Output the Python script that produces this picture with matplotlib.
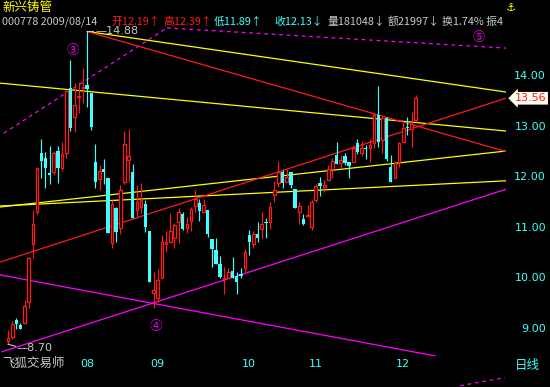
import matplotlib
matplotlib.use('Agg')
import matplotlib.pyplot as plt
import matplotlib.transforms as mtransforms
from matplotlib.patches import Rectangle

plt.rcParams['font.family'] = ['Noto Sans CJK SC', 'DejaVu Sans']

# daily candles, oldest first
opens = [8.76, 8.84, 9.18, 9.08, 9.12, 9.53, 10.68, 11.31, 12.48, 12.38,
         12.08, 12.10, 12.52, 12.18, 12.48, 13.76, 13.19, 13.58, 13.76, 13.82,
         13.66, 12.30, 11.96, 12.16, 11.98, 10.70, 11.39, 11.00, 11.91, 12.34,
         12.10, 11.35, 11.41, 11.47, 10.94, 9.71, 9.61, 10.00, 10.68, 10.72,
         10.80, 11.12, 11.27, 11.00, 11.13, 11.43, 11.49, 11.31, 11.35, 10.78,
         10.56, 10.28, 9.99, 10.01, 10.15, 10.05, 10.09, 10.21, 10.86, 10.68,
         10.88, 10.98, 11.11, 11.12, 11.65, 11.89, 12.10, 11.91, 12.10, 11.77,
         11.31, 11.17, 11.23, 11.02, 11.55, 11.89, 11.81, 11.94, 12.16, 12.44,
         12.28, 12.42, 12.30, 12.30, 12.68, 12.48, 12.58, 12.58, 12.68, 13.23,
         12.74, 13.17, 12.20, 11.98, 12.30, 12.70, 12.99, 12.95, 13.13]
highs = [8.98, 9.15, 9.22, 9.12, 9.57, 10.42, 11.35, 12.20, 12.75, 12.50,
         12.62, 12.52, 12.62, 12.70, 13.72, 14.32, 13.86, 13.88, 14.16, 14.88,
         13.66, 12.66, 12.24, 12.36, 11.98, 11.55, 11.41, 11.85, 12.91, 12.95,
         12.26, 11.85, 11.89, 11.55, 10.94, 10.13, 10.19, 10.86, 10.94, 11.29,
         11.10, 11.39, 11.31, 11.21, 11.41, 11.75, 11.57, 11.57, 11.35, 10.78,
         10.80, 10.44, 10.23, 10.21, 10.42, 10.13, 10.21, 10.58, 10.96, 10.94,
         11.12, 11.31, 11.19, 11.51, 11.92, 12.32, 12.14, 12.16, 12.10, 11.77,
         11.51, 11.27, 11.45, 11.55, 11.87, 12.00, 11.94, 12.24, 12.38, 12.70,
         12.44, 12.48, 12.30, 12.64, 12.75, 12.72, 12.64, 12.75, 13.27, 13.80,
         13.21, 13.19, 12.44, 12.32, 12.70, 13.07, 13.19, 13.29, 13.62]
lows = [8.70, 8.80, 9.00, 9.00, 9.10, 9.41, 10.40, 11.28, 11.98, 11.79,
        11.87, 12.05, 11.89, 12.12, 12.38, 12.91, 12.89, 13.27, 13.47, 13.39,
        12.93, 11.79, 11.75, 11.87, 10.90, 10.60, 10.72, 10.88, 11.87, 11.91,
        11.19, 11.19, 11.29, 10.92, 9.93, 9.41, 9.53, 10.00, 10.52, 10.70,
        10.60, 10.70, 10.96, 10.90, 10.94, 11.31, 11.13, 11.31, 10.82, 10.23,
        10.28, 10.00, 9.69, 10.00, 10.01, 9.69, 10.01, 10.13, 10.46, 10.60,
        10.72, 10.80, 10.80, 10.98, 11.51, 11.81, 11.79, 11.91, 11.79, 11.39,
        11.08, 11.06, 11.23, 10.96, 11.51, 11.63, 11.71, 11.94, 11.98, 12.26,
        12.18, 12.24, 11.98, 12.30, 12.46, 12.42, 12.36, 12.30, 12.58, 12.60,
        12.48, 12.32, 11.91, 11.98, 12.20, 12.70, 12.83, 12.60, 13.09]
closes = [8.82, 9.10, 9.10, 9.00, 9.45, 10.40, 11.08, 12.18, 12.32, 12.18,
          12.05, 12.48, 12.18, 12.45, 13.70, 12.97, 13.43, 13.61, 13.78, 13.74,
          12.99, 11.91, 12.12, 12.10, 10.90, 11.47, 10.92, 11.75, 12.66, 12.42,
          11.19, 11.51, 11.55, 11.02, 9.93, 9.77, 9.97, 10.72, 10.72, 10.94,
          11.06, 11.31, 10.98, 11.08, 11.37, 11.57, 11.33, 11.45, 10.88, 10.58,
          10.28, 10.03, 10.01, 10.13, 10.01, 9.93, 10.05, 10.52, 10.72, 10.88,
          10.80, 11.08, 11.09, 11.41, 11.75, 12.10, 11.89, 12.00, 11.85, 11.39,
          11.43, 11.08, 11.25, 11.51, 11.83, 11.83, 11.85, 12.16, 12.32, 12.26,
          12.34, 12.28, 12.22, 12.58, 12.50, 12.58, 12.56, 12.64, 13.23, 12.70,
          13.17, 12.36, 11.91, 12.28, 12.68, 12.97, 12.97, 13.05, 13.56]

month_labels = ['08', '09', '10', '11', '12']
month_starts = [19, 36, 58, 74, 95]
price_ticks = [9, 10, 11, 12, 13, 14]

# hand drawn analysis lines: (candle index, price) end points
yellow_lines = [((19, 14.88), (120, 13.68)),
                ((-2, 13.86), (120, 12.91)),
                ((-2, 11.41), (120, 12.52)),
                ((-2, 11.43), (120, 11.93))]
red_lines = [((19, 14.88), (120, 12.50)),
             ((-2, 10.32), (120, 13.57))]
magenta_lines = [((-2, 10.07), (102.6, 8.47)),
                 ((-1.5, 8.55), (120, 11.77))]
magenta_dashed = [((-1, 12.87), (38.2, 14.95)),
                  ((38.2, 14.95), (120, 14.55))]
wave_marks = [('③', 15.5, 14.5), ('④', 35.5, 9.04), ('⑤', 113.3, 14.76)]

RED = '#ff1a1a'
CYAN = '#40ffff'
GRAY = '#c8c8c8'
W, H = 550, 387

fig = plt.figure(figsize=(5.5, 3.87), dpi=100, facecolor='black')
ax = fig.add_axes([0, 1 - 357 / H, 506 / W, 330 / H])
ax.set_facecolor('black')
ax.set_xlim(-8 / 4.16, 498 / 4.16)
ax.set_ylim(14 - 281 / 50.6, 14 + 49 / 50.6)
ax.axis('off')

for (x0, y0), (x1, y1) in yellow_lines:
    ax.plot([x0, x1], [y0, y1], color='#ffff00', lw=0.9, zorder=1)
for (x0, y0), (x1, y1) in red_lines:
    ax.plot([x0, x1], [y0, y1], color=RED, lw=0.9, zorder=1)
for (x0, y0), (x1, y1) in magenta_lines:
    ax.plot([x0, x1], [y0, y1], color='#ff00ff', lw=0.9, zorder=1)
for (x0, y0), (x1, y1) in magenta_dashed:
    ax.plot([x0, x1], [y0, y1], color='#ff00ff', lw=0.9,
            linestyle=(0, (3, 3)), zorder=1)
ax.plot([108.7, 119.5], [7.88, 8.04], color='#ff00ff', lw=0.9,
        linestyle=(0, (3, 3)), clip_on=False)

for i in range(len(closes)):
    o, h, l, c = opens[i], highs[i], lows[i], closes[i]
    up = c >= o
    col = RED if up else CYAN
    ax.vlines(i, l, h, color=col, lw=0.85, zorder=2)
    lo, hi = min(o, c), max(o, c)
    if hi - lo < 0.02:
        hi = lo + 0.02
    if up:
        ax.add_patch(Rectangle((i - 0.33, lo), 0.66, hi - lo, facecolor='black',
                               edgecolor=col, lw=0.9, zorder=3))
    else:
        ax.add_patch(Rectangle((i - 0.4, lo), 0.8, hi - lo, facecolor=col,
                               edgecolor='none', zorder=3))

# high / low markers
ih = highs.index(max(highs))
ax.plot([ih, ih + 1.5], [highs[ih], highs[ih]], color=GRAY, lw=0.8)
ax.text(ih + 2, highs[ih], '—%.2f' % highs[ih], color=GRAY, fontsize=8,
        va='center', family='DejaVu Sans')
il = lows.index(min(lows))
ax.plot([il, il + 1.8], [lows[il], lows[il] - 0.04], color=GRAY, lw=0.8)
ax.text(il + 2.1, lows[il] - 0.07, '—%.2f' % lows[il], color=GRAY,
        fontsize=8, va='center', family='DejaVu Sans')

for s, x, y in wave_marks:
    ax.text(x, y, s, color='#ff00ff', fontsize=9, ha='center', va='center')

# right price scale
trans = mtransforms.blended_transform_factory(fig.transFigure, ax.transData)
for p in price_ticks:
    fig.text(546 / W, p, '%.2f' % p, transform=trans, color=CYAN,
             fontsize=8, ha='right', va='center', family='DejaVu Sans')
fig.text(515 / W, closes[-1], '%.2f' % closes[-1], transform=trans,
         color=RED, fontsize=8, ha='left', va='center', family='DejaVu Sans',
         bbox=dict(boxstyle='larrow,pad=0.12', fc='#fffff0', ec='none'))

# month labels
for lab, i in zip(month_labels, month_starts):
    ax.text(i, 14 - 288 / 50.6, lab, color=CYAN, fontsize=8, ha='center',
            va='center', clip_on=False, family='DejaVu Sans')


def ftext(x, y, s, color, size=8, **kw):
    fig.text(x / W, 1 - y / H, s, color=color, fontsize=size, va='center', **kw)


HS = 7.8
ftext(2, 8, '新兴铸管', '#ffff00', 9)
ftext(2, 22, '000778 2009/08/14', GRAY, HS)
ftext(111, 22, '开12.19↑', RED, HS)
ftext(163, 22, '高12.39↑', RED, HS)
ftext(214, 22, '低11.89↑', CYAN, HS)
ftext(274, 22, '收12.13↓', CYAN, HS)
ftext(327, 22, '量181048↓', GRAY, HS)
ftext(388, 22, '额21997↓', GRAY, HS)
ftext(442, 22, '换1.74% 振4', GRAY, HS)
ftext(506, 8, '⚓', '#ffff00', 8)
ftext(2, 363, '飞狐交易师', GRAY, 9)
ftext(515, 365, '日线', CYAN, 9)

fig.savefig('out.png', dpi=100, facecolor='black')
